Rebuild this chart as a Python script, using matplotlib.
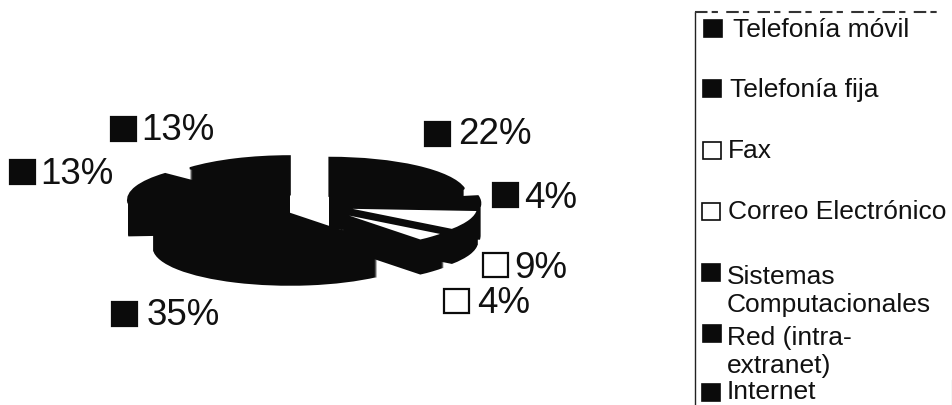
import matplotlib
matplotlib.use("Agg")
import matplotlib.pyplot as plt
from matplotlib.patches import Rectangle

# valores de la encuesta, en sentido horario desde las 12
categorias = ["Telefonía móvil", "Telefonía fija", "Fax", "Correo Electrónico",
              "Sistemas Computacionales", "Red (intra-extranet)", "Internet"]
porcentajes = [22, 4, 9, 4, 35, 13, 13]
colores = ["#0b0b0b", "#0b0b0b", "#ffffff", "#ffffff", "#0b0b0b", "#0b0b0b", "#0b0b0b"]
separacion = [0.28, 0.28, 0.28, 0.28, 0.28, 0.31, 0.28]

# textos de la leyenda, con sus saltos de linea
leyenda = ["Telefonía móvil", "Telefonía fija", "Fax", "Correo Electrónico",
           "Sistemas\nComputacionales", "Red (intra-\nextranet)", "Internet"]

ANCHO, ALTO = 953, 405
NEGRO = "#0b0b0b"
plt.rcParams["font.family"] = ["Liberation Sans", "DejaVu Sans"]

fig = plt.figure(figsize=(ANCHO / 100, ALTO / 100), dpi=100, facecolor="white")

# lienzo en pixeles para etiquetas y leyenda
lienzo = fig.add_axes([0, 0, 1, 1])
lienzo.set_xlim(0, ANCHO)
lienzo.set_ylim(ALTO, 0)
lienzo.axis("off")

# pastel aplastado: un radio vale ra px a lo ancho y rb px a lo alto
cx, cy, ra, rb = 305, 204, 137, 38
ax = fig.add_axes([(cx - 2 * ra) / ANCHO, 1 - (cy + 2 * rb) / ALTO, 4 * ra / ANCHO, 4 * rb / ALTO])
ax.patch.set_alpha(0)

# el grosor se arma apilando copias hacia abajo
grosor = 34
for d in range(grosor, 0, -1):
    ax.pie(porcentajes, explode=separacion, startangle=90, counterclock=False,
           colors=[NEGRO] * len(porcentajes), center=(0, -d / rb),
           wedgeprops={"linewidth": 0})
ax.pie(porcentajes, explode=separacion, startangle=90, counterclock=False,
       colors=colores, wedgeprops={"linewidth": 1.5, "edgecolor": NEGRO})
ax.set_aspect("auto")
ax.set_xlim(-2, 2)
ax.set_ylim(-2, 2)

# etiquetas de porcentaje con su cuadrito
pos_cuadro = [(425, 122), (493, 183), (483, 253), (444, 289), (112, 302), (10, 160), (111, 117)]
pos_texto = [(458, 144), (524, 208), (514, 278), (477, 313), (147, 325), (40, 184), (141, 140)]
for v, c, (qx, qy), (tx, ty) in zip(porcentajes, colores, pos_cuadro, pos_texto):
    lienzo.add_patch(Rectangle((qx, qy), 25, 24, facecolor=c, edgecolor=NEGRO, linewidth=1.6))
    lienzo.text(tx, ty, f"{v}%", fontsize=26.5, va="baseline", ha="left", color="#111111")

# leyenda recortada a la derecha
lienzo.plot([695, 695], [12, 405], color="#222222", linewidth=1)
lienzo.plot([695, 940], [11.5, 11.5], color="#333333", linewidth=1.5, linestyle=(0, (6, 2, 3, 4)))
lienzo.plot([952, 952], [380, 405], color="#cccccc", linewidth=1)
pos_leyenda = [(704, 20), (703, 80), (703, 142), (702, 203), (702, 264), (703, 325), (702, 384)]
pos_etiqueta = [(733, 37), (730, 97), (728, 158), (728, 219), (727, 312), (727, 373), (727, 399)]
for texto, c, (qx, qy), (tx, ty) in zip(leyenda, colores, pos_leyenda, pos_etiqueta):
    lienzo.add_patch(Rectangle((qx, qy), 18, 17, facecolor=c, edgecolor=NEGRO, linewidth=1.2))
    lienzo.text(tx, ty, texto, fontsize=19, va="baseline", ha="left", color="#111111", linespacing=1.22)

fig.savefig("out.png", dpi=100, facecolor="white")
plt.close(fig)
